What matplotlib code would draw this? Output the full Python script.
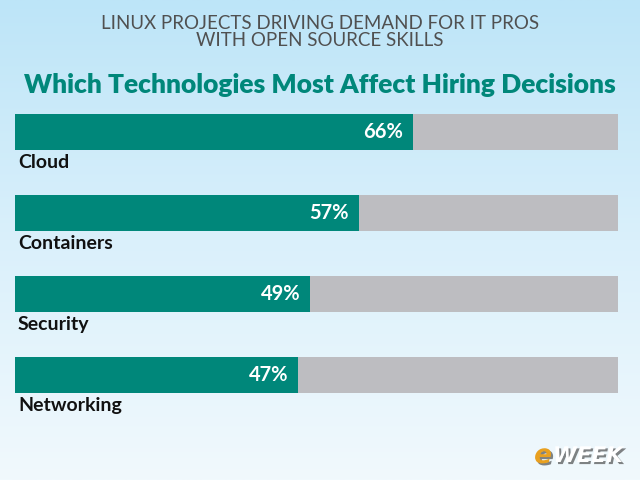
import matplotlib
matplotlib.use("Agg")
import matplotlib.pyplot as plt
import matplotlib.patheffects as pe
import numpy as np
from matplotlib.colors import LinearSegmentedColormap

categories = ["Cloud", "Containers", "Security", "Networking"]
values = [66, 57, 49, 47]
title_top = "LINUX PROJECTS DRIVING DEMAND FOR IT PROS\nWITH OPEN SOURCE SKILLS"
title_main = "Which Technologies Most Affect Hiring Decisions"

teal = "#00877a"
gray = "#bdbdc1"

fig = plt.figure(figsize=(6.4, 4.8), dpi=100)

# background gradient
ax_bg = fig.add_axes([0, 0, 1, 1])
cmap = LinearSegmentedColormap.from_list("bg", ["#bde5f8", "#daf0fb", "#f1f9fd"])
grad = np.linspace(0, 1, 256).reshape(-1, 1)
ax_bg.imshow(grad, aspect="auto", cmap=cmap, extent=[0, 1, 0, 1], origin="upper")
ax_bg.set_xlim(0, 1)
ax_bg.set_ylim(0, 1)
ax_bg.axis("off")

fig.text(0.5, 0.968, title_top, ha="center", va="top", fontsize=13.5,
         color="#505050", family="Lato", weight="normal", linespacing=1.0)
fig.text(0.5, 0.822, title_main, ha="center", va="center", fontsize=19,
         color=teal, family="Lato", weight="heavy")

# bars
h = 0.443
ax = fig.add_axes([15 / 640, (480 - 393) / 480, 603 / 640, (393 - 114) / 480])
ax.set_xlim(0, 100)
ax.set_ylim(len(categories) - 1 + h / 2, -h / 2)
ax.axis("off")
ypos = np.arange(len(categories))
ax.barh(ypos, [100] * len(values), height=h, color=gray)
ax.barh(ypos, values, height=h, color=teal)

for i, (c, v) in enumerate(zip(categories, values)):
    ax.text(v - 1.6, i, f"{v}%", ha="right", va="center", color="white",
            fontsize=14.5, family="Lato", weight="bold")
    ax.text(0.5, i + h / 2 + 0.15, c, ha="left", va="center", color="#111111",
            fontsize=14, family="Lato", weight="bold", clip_on=False)

# logo
shadow = [pe.withSimplePatchShadow(offset=(1.5, -1.5), shadow_rgbFace="#333333", alpha=0.6)]
fig.text(553 / 640, 0.05, "WEEK", ha="left", va="center", fontsize=15.5,
         color="white", family="DejaVu Sans", weight="bold", style="italic",
         path_effects=shadow)
fig.text(552 / 640, 0.05, "e", ha="right", va="center", fontsize=19,
         color="#e8a020", family="DejaVu Sans", weight="bold", style="italic",
         path_effects=shadow)

fig.savefig("out.png", dpi=100)
